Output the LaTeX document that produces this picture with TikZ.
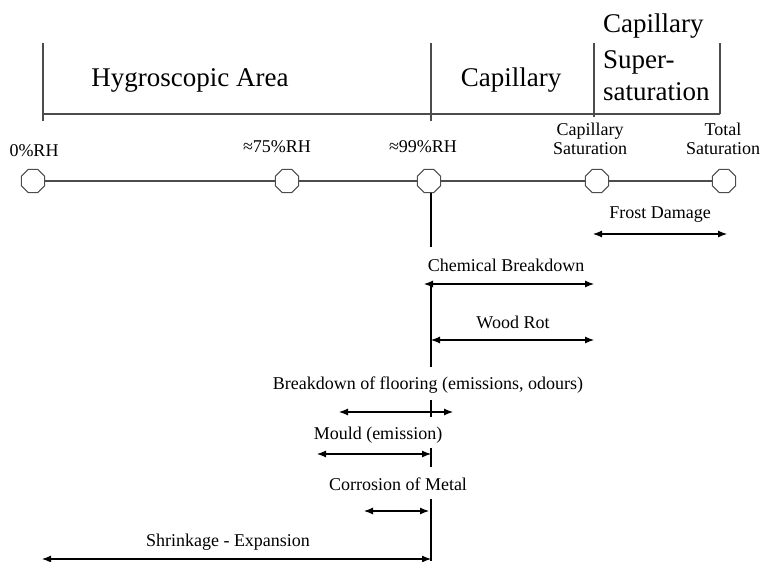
\documentclass[tikz,border=0pt]{standalone}
\usepackage{fontspec}
\setmainfont{Liberation Serif}
\usetikzlibrary{shapes.geometric,arrows.meta}
\tikzset{
  oct/.style={regular polygon, regular polygon sides=8, minimum size=25pt, inner sep=0pt, draw=black!70, line width=1pt, fill=white},
  big/.style={font=\rmfamily\fontsize{27}{34}\selectfont, inner sep=0pt},
  lbl/.style={font=\rmfamily\fontsize{18}{18}\selectfont, inner sep=0pt, align=center},
  frame/.style={draw=black!70, line width=1.1pt},
  rng/.style={draw=black, line width=1.1pt, {Latex[length=9pt,width=7pt]}-{Latex[length=9pt,width=7pt]}},
  bar/.style={draw=black, line width=1.1pt}
}
\begin{document}
\begin{tikzpicture}[x=1pt,y=-1pt]
\useasboundingbox (0,0) rectangle (763,562);
% top frame
\coordinate (t1) at (43,43); \coordinate (b1) at (43,121);
\coordinate (t2) at (431,43); \coordinate (b2) at (431,121);
\coordinate (t3) at (594,43); \coordinate (b3) at (594,117);
\coordinate (t4) at (720,43); \coordinate (b4) at (720,114);
\coordinate (h1) at (43,114); \coordinate (h2) at (720,114);
\draw[frame] (t1) -- (b1);
\draw[frame] (t2) -- (b2);
\draw[frame] (t3) -- (b3);
\draw[frame] (t4) -- (b4);
\draw[frame] (h1) -- (h2);
\node[big] (hyg) at (190,80) {Hygroscopic Area};
\node[big] (cap) at (511,80) {Capillary};
\node[big, anchor=base west] (cs1) at (603,32) {Capillary};
\node[big, anchor=base west] (cs2) at (603,68) {Super-};
\node[big, anchor=base west] (cs3) at (603,100) {saturation};
% main axis
\node[oct] (n0) at (33,181) {};
\node[oct] (n1) at (287,181) {};
\node[oct] (n2) at (429,181) {};
\node[oct] (n3) at (597,181) {};
\node[oct] (n4) at (724,181) {};
\draw[frame] (n0) -- (n1);
\draw[frame] (n1) -- (n2);
\draw[frame] (n2) -- (n3);
\draw[frame] (n3) -- (n4);
\node[lbl] (l0) at (34,151) {0\%RH};
\node[lbl] (l1) at (277,147) {≈75\%RH};
\node[lbl] (l2) at (423,147) {≈99\%RH};
\node[lbl] (l3) at (590,139) {Capillary\\[1pt]Saturation};
\node[lbl] (l4) at (723,139) {Total\\[1pt]Saturation};
% ranges
\coordinate (v1a) at (431,193); \coordinate (v1b) at (431,247);
\draw[bar] (v1a) -- (v1b);
\node[lbl] (fd) at (660,215) {Frost Damage};
\coordinate (fda) at (593,234); \coordinate (fdb) at (727,234);
\draw[rng] (fda) -- (fdb);
\node[lbl] (cb) at (506,265) {Chemical Breakdown};
\coordinate (cba) at (424,284); \coordinate (cbb) at (594,284);
\draw[rng] (cba) -- (cbb);
\coordinate (v2a) at (431,282); \coordinate (v2b) at (431,367);
\draw[bar] (v2a) -- (v2b);
\node[lbl] (wr) at (513,322) {Wood Rot};
\coordinate (wra) at (431,340); \coordinate (wrb) at (594,340);
\draw[rng] (wra) -- (wrb);
\node[lbl] (bf) at (428,385) {Breakdown of flooring (emissions, odours)};
\coordinate (v3a) at (431,400); \coordinate (v3b) at (431,417);
\draw[bar] (v3a) -- (v3b);
\coordinate (bfa) at (339,412); \coordinate (bfb) at (453,412);
\draw[rng] (bfa) -- (bfb);
\node[lbl] (mo) at (378,435) {Mould (emission)};
\coordinate (v4a) at (431,448); \coordinate (v4b) at (431,467);
\draw[bar] (v4a) -- (v4b);
\coordinate (moa) at (317,454); \coordinate (mob) at (431,454);
\draw[rng] (moa) -- (mob);
\node[lbl] (cm) at (398,484) {Corrosion of Metal};
\coordinate (v5a) at (431,499); \coordinate (v5b) at (431,561);
\draw[bar] (v5a) -- (v5b);
\coordinate (cma) at (364,511); \coordinate (cmb) at (429,511);
\draw[rng] (cma) -- (cmb);
\node[lbl] (se) at (228,542) {Shrinkage - Expansion};
\coordinate (sea) at (42,559); \coordinate (seb) at (431,559);
\draw[rng] (sea) -- (seb);
\end{tikzpicture}
\end{document}
